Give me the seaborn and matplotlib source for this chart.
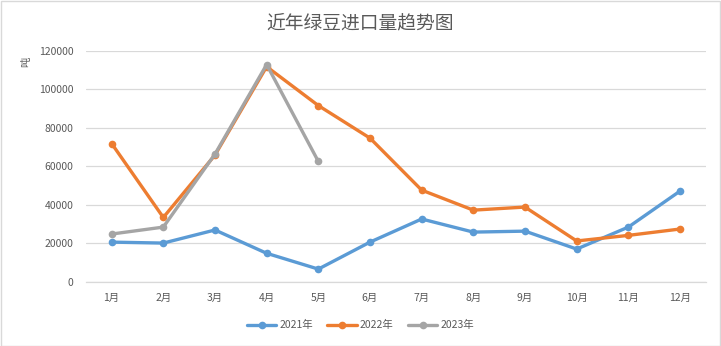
import matplotlib
matplotlib.use("Agg")
import matplotlib.pyplot as plt
import seaborn as sns
import pandas as pd

months = ["1月", "2月", "3月", "4月", "5月", "6月", "7月", "8月", "9月", "10月", "11月", "12月"]
y2021 = [20700, 20200, 27000, 14900, 6700, 20700, 32700, 25900, 26400, 17100, 28500, 47200]
y2022 = [71900, 33500, 65900, 111800, 91600, 74700, 47700, 37300, 38900, 21300, 24200, 27500]
y2023 = [24900, 28500, 66400, 112900, 62600]
series_names = ["2021年", "2022年", "2023年"]
colors = ["#5B9BD5", "#ED7D31", "#A5A5A5"]
yticks = [0, 20000, 40000, 60000, 80000, 100000, 120000]

rows = []
for name, vals in zip(series_names, [y2021, y2022, y2023]):
    for m, v in zip(months, vals):
        rows.append({"月份": m, "值": v, "年份": name})
df = pd.DataFrame(rows)
df["x"] = df["月份"].map({m: i for i, m in enumerate(months)})

sns.set_style("white")
plt.rcParams["font.family"] = ["Noto Sans CJK SC", "DejaVu Sans"]

fig = plt.figure(figsize=(7.21, 3.46), dpi=100)
ax = fig.add_axes([0.119, 0.185, 0.860, 0.668])

sns.lineplot(data=df, x="x", y="值", hue="年份", hue_order=series_names,
             palette=colors, marker="o", markersize=5.5, markeredgewidth=0,
             linewidth=2.4, ax=ax, legend=False, sort=False)

ax.set_xlim(-0.5, 11.5)
ax.set_ylim(0, 120000)
ax.set_xticks(range(len(months)))
ax.set_xticklabels(months)
ax.set_yticks(yticks)
ax.set_yticklabels([str(t) for t in yticks])
ax.tick_params(axis="both", length=0, labelsize=7.5, colors="#595959")
ax.tick_params(axis="x", pad=8)
ax.tick_params(axis="y", pad=9)
ax.set_xlabel("")
ax.set_ylabel("")
ax.grid(axis="y", color="#D9D9D9", linewidth=0.9)
ax.set_axisbelow(True)
for s in ["top", "right", "left"]:
    ax.spines[s].set_visible(False)
ax.spines["bottom"].set_color("#D9D9D9")
ax.spines["bottom"].set_linewidth(0.9)

fig.text(0.5, 0.935, "近年绿豆进口量趋势图", ha="center", va="center",
         fontsize=13.5, color="#595959")
fig.text(0.036, 0.82, "吨", ha="center", va="center", rotation=90,
         fontsize=7.5, color="#595959")

from matplotlib.lines import Line2D
handles = [Line2D([0], [0], color=c, linewidth=2.4, marker="o", markersize=5.5,
                  markeredgewidth=0) for c in colors]
fig.legend(handles, series_names, loc="center", bbox_to_anchor=(0.5, 0.06),
           ncol=3, frameon=False, fontsize=7.5, handlelength=2.8,
           columnspacing=1.4, handletextpad=0.3, labelcolor="#595959")

border = plt.Rectangle((0.001, 0.001), 0.997, 0.997, transform=fig.transFigure,
                       fill=False, edgecolor="#D9D9D9", linewidth=1)
fig.patches.append(border)

fig.savefig("out.png", dpi=100, facecolor="white")
